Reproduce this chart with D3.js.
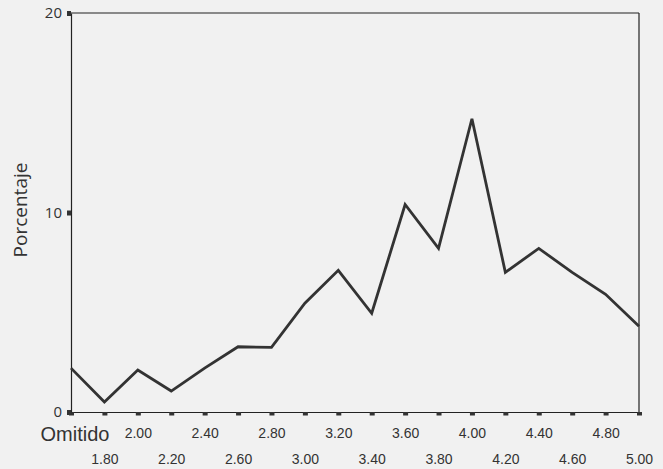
<!DOCTYPE html>
<html><head><meta charset="utf-8">
<script src="https://cdn.jsdelivr.net/npm/d3@7/dist/d3.min.js"></script>
<style>
html,body{margin:0;padding:0;background:#f1f1f1;}
svg{display:block;font-family:"Open Sans","Noto Sans",sans-serif;}
</style></head>
<body>
<script>
const categories = ["Omitido","1.80","2.00","2.20","2.40","2.60","2.80","3.00","3.20","3.40","3.60","3.80","4.00","4.20","4.40","4.60","4.80","5.00"];
const values = [2.2,0.5,2.1,1.05,2.2,3.27,3.24,5.45,7.1,4.95,10.4,8.2,14.7,7.0,8.2,7.0,5.9,4.3];
const yTicks = [0,10,20];

const W = 663, H = 469;
const m = {left:71, right:24, top:13, bottom:57};
const svg = d3.select("body").append("svg").attr("width",W).attr("height",H);

const x = d3.scalePoint().domain(categories).range([m.left, W-m.right]);
const y = d3.scaleLinear().domain([0,20]).range([H-m.bottom, m.top]);

// frame lines (top and right)
svg.append("line").attr("x1",m.left).attr("x2",W-m.right).attr("y1",m.top).attr("y2",m.top).attr("stroke","#222").attr("stroke-width",1.2);
svg.append("line").attr("x1",W-m.right).attr("x2",W-m.right).attr("y1",m.top).attr("y2",H-m.bottom).attr("stroke","#222").attr("stroke-width",1.2);

// x axis
const xAxis = svg.append("g").attr("transform",`translate(0,${H-m.bottom})`)
  .call(d3.axisBottom(x).tickSize(0).tickFormat(""));
xAxis.select(".domain").attr("stroke","#222").attr("stroke-width",1.2);
xAxis.selectAll(".tick").append("rect").attr("x",-2.5).attr("y",0).attr("width",5).attr("height",3.5).attr("fill","#333");
xAxis.selectAll(".tick").append("text")
  .attr("fill","#333")
  .attr("text-anchor",(d,i)=> i===0 ? "start" : "middle")
  .attr("x",(d,i)=> i===0 ? -31 : 0)
  .attr("y",(d,i)=> i===0 ? 29 : (i%2===0 ? 26 : 52))
  .style("font-size",(d,i)=> i===0 ? "20px" : "14px")
  .text(d=>d);

// y axis
const yAxis = svg.append("g").attr("transform",`translate(${m.left},0)`)
  .call(d3.axisLeft(y).tickValues(yTicks).tickSize(0).tickPadding(9));
yAxis.select(".domain").attr("stroke","#222").attr("stroke-width",1.2);
yAxis.selectAll(".tick text").style("font-size","15px").attr("fill","#333").attr("font-family","'Open Sans',sans-serif");
yAxis.selectAll(".tick").append("rect").attr("x",-4).attr("y",-2.5).attr("width",4).attr("height",5).attr("fill","#333");

// y label
svg.append("text").attr("transform",`translate(27,210) rotate(-90)`)
  .attr("text-anchor","middle").style("font-size","19px").attr("fill","#333").text("Porcentaje");

// line
const line = d3.line().x((d,i)=>x(categories[i])).y(d=>y(d));
svg.append("path").datum(values).attr("d",line).attr("fill","none")
  .attr("stroke","#333").attr("stroke-width",2.8).attr("stroke-linejoin","miter");
</script>
</body></html>
